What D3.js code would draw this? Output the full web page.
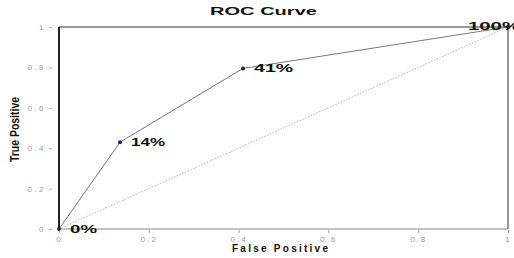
<!DOCTYPE html>
<html><head><meta charset="utf-8">
<script src="https://cdn.jsdelivr.net/npm/d3@7"></script>
<style>
html,body{margin:0;padding:0;background:#fff;overflow:hidden}
text{font-family:"Liberation Sans",Arial,sans-serif}
</style></head>
<body><svg id="c" width="514" height="258"></svg>
<script>
const fpr = [0, 0.136, 0.41, 1];
const tpr = [0, 0.43, 0.795, 1];
const pointLabels = ["0%", "14%", "41%", "100%"];
const tickValues = [0, 0.2, 0.4, 0.6, 0.8, 1];
const tickLabels = ["0", "0.2", "0.4", "0.6", "0.8", "1"];
const diagonal = [0, 1];

const svg = d3.select("#c");
const m = {l: 59, r: 6, t: 27, b: 29};
const W = 514, H = 258;
const x = d3.scaleLinear().domain([0, 1]).range([m.l, W - m.r]);
const y = d3.scaleLinear().domain([0, 1]).range([H - m.b, m.t]);

// frame
svg.append("line").attr("x1", x(0)).attr("x2", x(1)).attr("y1", y(1)).attr("y2", y(1))
  .attr("stroke", "#777").attr("stroke-width", 1.5);
svg.append("line").attr("x1", x(0)).attr("x2", x(1)).attr("y1", y(0)).attr("y2", y(0))
  .attr("stroke", "#888").attr("stroke-width", 1.2);
svg.append("line").attr("x1", x(1)).attr("x2", x(1)).attr("y1", y(1)).attr("y2", y(0))
  .attr("stroke", "#333").attr("stroke-width", 1);
svg.append("line").attr("x1", x(0)).attr("x2", x(0)).attr("y1", y(1)).attr("y2", y(0))
  .attr("stroke", "#222").attr("stroke-width", 2);

// axes
const xAxis = d3.axisBottom(x).tickValues(tickValues).tickSize(3).tickPadding(3)
  .tickFormat((d, i) => tickLabels[i]);
const gx = svg.append("g").attr("transform", `translate(0,${y(0) + 1})`).call(xAxis);
gx.select(".domain").remove();
gx.selectAll(".tick line").attr("stroke", "#999");
gx.selectAll(".tick text").attr("fill", "#999").attr("font-size", 8).attr("letter-spacing", 2);

const yAxis = d3.axisLeft(y).tickValues(tickValues).tickSize(3).tickPadding(3)
  .tickFormat((d, i) => tickLabels[i]);
const gy = svg.append("g").attr("transform", `translate(${x(0) - 7},0)`).call(yAxis);
gy.select(".domain").remove();
gy.selectAll(".tick line").attr("stroke", "#aaa");
gy.selectAll(".tick text").attr("fill", "#999").attr("font-size", 8).attr("letter-spacing", 2.5);

// diagonal
svg.append("line").attr("x1", x(diagonal[0])).attr("y1", y(diagonal[0]))
  .attr("x2", x(diagonal[1])).attr("y2", y(diagonal[1]))
  .attr("stroke", "#b5b5b5").attr("stroke-width", 1).attr("stroke-dasharray", "1.5,1.5");

// curve
const pts = fpr.map((f, i) => ({f, t: tpr[i], lab: pointLabels[i]}));
svg.append("path").datum(pts)
  .attr("d", d3.line().x(d => x(d.f)).y(d => y(d.t)))
  .attr("fill", "none").attr("stroke", "#777").attr("stroke-width", 1);

svg.selectAll("circle.pt").data(pts).enter().append("circle")
  .attr("cx", d => x(d.f)).attr("cy", d => y(d.t)).attr("r", 2)
  .attr("fill", "#1c1c6a");

const labLen = [27, 34, 39, 52];
svg.selectAll("text.pl").data(pts).enter().append("text")
  .attr("font-size", 10).attr("font-weight", "bold").attr("fill", "#111")
  .attr("textLength", (d, i) => labLen[i]).attr("lengthAdjust", "spacingAndGlyphs")
  .text(d => d.lab)
  .attr("x", (d, i) => i === 3 ? x(d.f) - 40 : x(d.f) + 11)
  .attr("y", (d, i) => i === 3 ? y(d.t) + 3 : y(d.t) + 4);

// titles
svg.append("text").attr("x", 210).attr("y", 15).attr("font-size", 11).attr("font-weight", "bold")
  .attr("fill", "#111").attr("textLength", 107).attr("lengthAdjust", "spacingAndGlyphs")
  .text("ROC Curve");
svg.append("text").attr("x", 232).attr("y", 252).attr("font-size", 10).attr("font-weight", "bold")
  .attr("fill", "#111").attr("textLength", 96).attr("lengthAdjust", "spacing")
  .text("False Positive");
svg.append("text").attr("transform", "translate(19,162) rotate(-90)")
  .attr("font-size", 12).attr("font-weight", "bold").attr("fill", "#111")
  .attr("textLength", 65).attr("lengthAdjust", "spacingAndGlyphs")
  .text("True Positive");
</script></body></html>
